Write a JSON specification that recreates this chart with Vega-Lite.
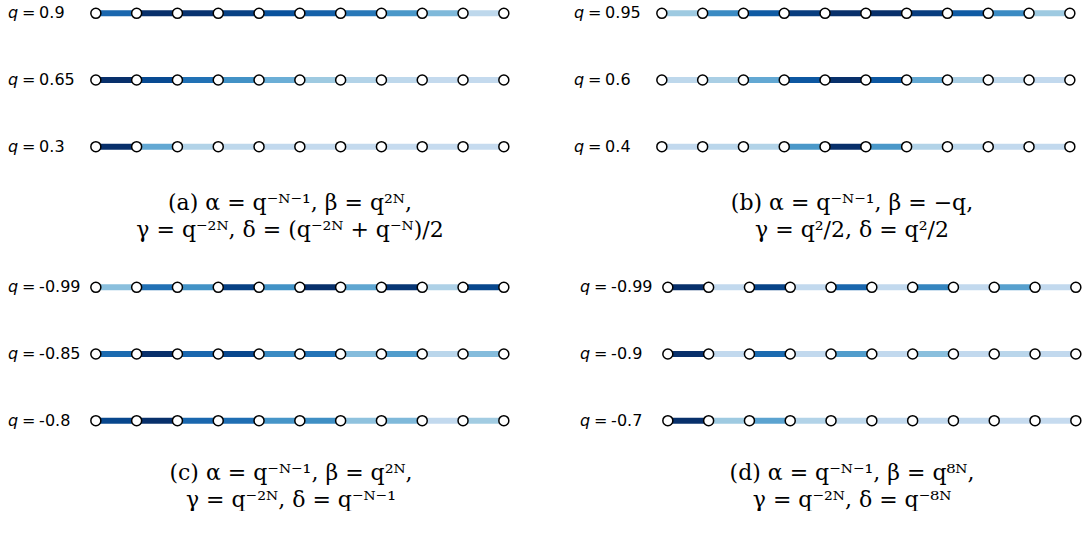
{
"$schema": "https://vega.github.io/schema/vega-lite/v6.json",
"autosize": {"type": "pad"},
"padding": {"left": 2, "top": 0, "right": 0, "bottom": 0},
"background": "white",
"config": {"view": {"stroke": null}, "title": {"font": "DejaVu Serif", "fontSize": 22, "fontWeight": "normal", "color": "black", "lineHeight": 27, "orient": "bottom", "anchor": "middle"}},
"datasets": {
"nodes": [
{"row":0,"i":0},{"row":0,"i":1},{"row":0,"i":2},{"row":0,"i":3},{"row":0,"i":4},{"row":0,"i":5},{"row":0,"i":6},{"row":0,"i":7},{"row":0,"i":8},{"row":0,"i":9},{"row":0,"i":10},
{"row":1,"i":0},{"row":1,"i":1},{"row":1,"i":2},{"row":1,"i":3},{"row":1,"i":4},{"row":1,"i":5},{"row":1,"i":6},{"row":1,"i":7},{"row":1,"i":8},{"row":1,"i":9},{"row":1,"i":10},
{"row":2,"i":0},{"row":2,"i":1},{"row":2,"i":2},{"row":2,"i":3},{"row":2,"i":4},{"row":2,"i":5},{"row":2,"i":6},{"row":2,"i":7},{"row":2,"i":8},{"row":2,"i":9},{"row":2,"i":10}
],
"ea": [
{"row":0,"from":0,"to":1,"v":4.3},{"row":0,"from":1,"to":2,"v":6},{"row":0,"from":2,"to":3,"v":5.9},{"row":0,"from":3,"to":4,"v":5.5},{"row":0,"from":4,"to":5,"v":5.0},{"row":0,"from":5,"to":6,"v":4.5},{"row":0,"from":6,"to":7,"v":3.8},{"row":0,"from":7,"to":8,"v":2.8},{"row":0,"from":8,"to":9,"v":1.6},{"row":0,"from":9,"to":10,"v":0.2},
{"row":1,"from":0,"to":1,"v":6},{"row":1,"from":1,"to":2,"v":5.2},{"row":1,"from":2,"to":3,"v":4.0},{"row":1,"from":3,"to":4,"v":3.0},{"row":1,"from":4,"to":5,"v":2.0},{"row":1,"from":5,"to":6,"v":1.0},{"row":1,"from":6,"to":7,"v":0.5},{"row":1,"from":7,"to":8,"v":0.2},{"row":1,"from":8,"to":9,"v":0.05},{"row":1,"from":9,"to":10,"v":0.05},
{"row":2,"from":0,"to":1,"v":6},{"row":2,"from":1,"to":2,"v":2.2},{"row":2,"from":2,"to":3,"v":0.5},{"row":2,"from":3,"to":4,"v":0.2},{"row":2,"from":4,"to":5,"v":0.1},{"row":2,"from":5,"to":6,"v":0.05},{"row":2,"from":6,"to":7,"v":0.05},{"row":2,"from":7,"to":8,"v":0},{"row":2,"from":8,"to":9,"v":0},{"row":2,"from":9,"to":10,"v":0}
],
"eb": [
{"row":0,"from":0,"to":1,"v":1.0},{"row":0,"from":1,"to":2,"v":3.2},{"row":0,"from":2,"to":3,"v":4.7},{"row":0,"from":3,"to":4,"v":5.6},{"row":0,"from":4,"to":5,"v":6},{"row":0,"from":5,"to":6,"v":6},{"row":0,"from":6,"to":7,"v":5.6},{"row":0,"from":7,"to":8,"v":4.7},{"row":0,"from":8,"to":9,"v":3.2},{"row":0,"from":9,"to":10,"v":1.0},
{"row":1,"from":0,"to":1,"v":0.2},{"row":1,"from":1,"to":2,"v":0.7},{"row":1,"from":2,"to":3,"v":2.2},{"row":1,"from":3,"to":4,"v":4.8},{"row":1,"from":4,"to":5,"v":6},{"row":1,"from":5,"to":6,"v":4.8},{"row":1,"from":6,"to":7,"v":2.2},{"row":1,"from":7,"to":8,"v":0.7},{"row":1,"from":8,"to":9,"v":0.2},{"row":1,"from":9,"to":10,"v":0.1},
{"row":2,"from":0,"to":1,"v":0.1},{"row":2,"from":1,"to":2,"v":0.3},{"row":2,"from":2,"to":3,"v":0.5},{"row":2,"from":3,"to":4,"v":2.8},{"row":2,"from":4,"to":5,"v":6},{"row":2,"from":5,"to":6,"v":2.8},{"row":2,"from":6,"to":7,"v":0.5},{"row":2,"from":7,"to":8,"v":0.3},{"row":2,"from":8,"to":9,"v":0.1},{"row":2,"from":9,"to":10,"v":0.1}
],
"ec": [
{"row":0,"from":0,"to":1,"v":1.4},{"row":0,"from":1,"to":2,"v":4.0},{"row":0,"from":2,"to":3,"v":3.0},{"row":0,"from":3,"to":4,"v":5.5},{"row":0,"from":4,"to":5,"v":3.0},{"row":0,"from":5,"to":6,"v":6},{"row":0,"from":6,"to":7,"v":2.3},{"row":0,"from":7,"to":8,"v":5.8},{"row":0,"from":8,"to":9,"v":0.6},{"row":0,"from":9,"to":10,"v":5.3},
{"row":1,"from":0,"to":1,"v":4.2},{"row":1,"from":1,"to":2,"v":6},{"row":1,"from":2,"to":3,"v":4.3},{"row":1,"from":3,"to":4,"v":5.3},{"row":1,"from":4,"to":5,"v":3.2},{"row":1,"from":5,"to":6,"v":3.9},{"row":1,"from":6,"to":7,"v":1.5},{"row":1,"from":7,"to":8,"v":2.6},{"row":1,"from":8,"to":9,"v":0.3},{"row":1,"from":9,"to":10,"v":1.5},
{"row":2,"from":0,"to":1,"v":5.3},{"row":2,"from":1,"to":2,"v":6},{"row":2,"from":2,"to":3,"v":4.3},{"row":2,"from":3,"to":4,"v":4.1},{"row":2,"from":4,"to":5,"v":2.9},{"row":2,"from":5,"to":6,"v":3.1},{"row":2,"from":6,"to":7,"v":1.3},{"row":2,"from":7,"to":8,"v":1.6},{"row":2,"from":8,"to":9,"v":0.1},{"row":2,"from":9,"to":10,"v":0.9}
],
"ed": [
{"row":0,"from":0,"to":1,"v":6},{"row":0,"from":1,"to":2,"v":0.1},{"row":0,"from":2,"to":3,"v":5.4},{"row":0,"from":3,"to":4,"v":0.1},{"row":0,"from":4,"to":5,"v":4.3},{"row":0,"from":5,"to":6,"v":0.1},{"row":0,"from":6,"to":7,"v":3.4},{"row":0,"from":7,"to":8,"v":0.1},{"row":0,"from":8,"to":9,"v":2.5},{"row":0,"from":9,"to":10,"v":0.1},
{"row":1,"from":0,"to":1,"v":6},{"row":1,"from":1,"to":2,"v":0.1},{"row":1,"from":2,"to":3,"v":4.2},{"row":1,"from":3,"to":4,"v":0.1},{"row":1,"from":4,"to":5,"v":2.6},{"row":1,"from":5,"to":6,"v":0.1},{"row":1,"from":6,"to":7,"v":1.4},{"row":1,"from":7,"to":8,"v":0.1},{"row":1,"from":8,"to":9,"v":0.3},{"row":1,"from":9,"to":10,"v":0.1},
{"row":2,"from":0,"to":1,"v":6},{"row":2,"from":1,"to":2,"v":1.0},{"row":2,"from":2,"to":3,"v":2.4},{"row":2,"from":3,"to":4,"v":0.5},{"row":2,"from":4,"to":5,"v":0.2},{"row":2,"from":5,"to":6,"v":0.1},{"row":2,"from":6,"to":7,"v":0.1},{"row":2,"from":7,"to":8,"v":0.1},{"row":2,"from":8,"to":9,"v":0},{"row":2,"from":9,"to":10,"v":0}
],
"la": [{"row":0,"q":"0.9"},{"row":1,"q":"0.65"},{"row":2,"q":"0.3"}],
"lb": [{"row":0,"q":"0.95"},{"row":1,"q":"0.6"},{"row":2,"q":"0.4"}],
"lc": [{"row":0,"q":"-0.99"},{"row":1,"q":"-0.85"},{"row":2,"q":"-0.8"}],
"ld": [{"row":0,"q":"-0.99"},{"row":1,"q":"-0.9"},{"row":2,"q":"-0.7"}]
},
"bounds": "flush",
"columns": 2,
"spacing": {"row": 114, "column": 56},
"concat": [
{"width": 510, "height": 160,
 "title": {"text": ["(a) α = q⁻ᴺ⁻¹, β = q²ᴺ,", "γ = q⁻²ᴺ, δ = (q⁻²ᴺ + q⁻ᴺ)/2"], "offset": 33, "dx": 33},
 "layer": [
  {"data": {"name": "ea"}, "mark": {"type": "rule", "strokeWidth": 6, "strokeCap": "butt"},
   "encoding": {"x": {"field": "from", "type": "quantitative", "scale": {"domain": [-2.3, 10.2], "nice": false, "zero": false}, "axis": null}, "x2": {"field": "to"},
    "y": {"field": "row", "type": "quantitative", "scale": {"domain": [-0.2, 2.2], "reverse": true, "nice": false, "zero": false}, "axis": null},
    "color": {"field": "v", "type": "quantitative", "scale": {"domain": [0,1,2,3,4,5,6], "range": ["#c6dbef","#9ecae1","#6baed6","#4292c6","#2171b5","#08519c","#08306b"], "interpolate": "rgb"}, "legend": null}}},
  {"data": {"name": "nodes"}, "mark": {"type": "point", "shape": "circle", "filled": true, "fill": "white", "stroke": "black", "strokeWidth": 1.5, "size": 100, "opacity": 1},
   "encoding": {"x": {"field": "i", "type": "quantitative", "axis": null}, "y": {"field": "row", "type": "quantitative", "axis": null}}},
  {"data": {"name": "la"}, "mark": {"type": "text", "align": "left", "baseline": "middle", "font": "DejaVu Sans", "fontSize": 16, "fontStyle": "italic"},
   "encoding": {"x": {"datum": -2.15, "type": "quantitative", "axis": null}, "y": {"field": "row", "type": "quantitative", "axis": null}, "text": {"value": "q"}}},
  {"data": {"name": "la"}, "mark": {"type": "text", "align": "left", "baseline": "middle", "font": "DejaVu Sans", "fontSize": 16, "dx": 14},
   "encoding": {"x": {"datum": -2.15, "type": "quantitative", "axis": null}, "y": {"field": "row", "type": "quantitative", "axis": null}, "text": {"value": "="}}},
  {"data": {"name": "la"}, "mark": {"type": "text", "align": "left", "baseline": "middle", "font": "DejaVu Sans", "fontSize": 16, "dx": 31},
   "encoding": {"x": {"datum": -2.15, "type": "quantitative", "axis": null}, "y": {"field": "row", "type": "quantitative", "axis": null}, "text": {"field": "q", "type": "nominal"}}}
 ]},
{"width": 510, "height": 160,
 "title": {"text": ["(b) α = q⁻ᴺ⁻¹, β = −q,", "γ = q²/2, δ = q²/2"], "offset": 33, "dx": 29},
 "layer": [
  {"data": {"name": "eb"}, "mark": {"type": "rule", "strokeWidth": 6, "strokeCap": "butt"},
   "encoding": {"x": {"field": "from", "type": "quantitative", "scale": {"domain": [-2.3, 10.2], "nice": false, "zero": false}, "axis": null}, "x2": {"field": "to"},
    "y": {"field": "row", "type": "quantitative", "scale": {"domain": [-0.2, 2.2], "reverse": true, "nice": false, "zero": false}, "axis": null},
    "color": {"field": "v", "type": "quantitative", "scale": {"domain": [0,1,2,3,4,5,6], "range": ["#c6dbef","#9ecae1","#6baed6","#4292c6","#2171b5","#08519c","#08306b"], "interpolate": "rgb"}, "legend": null}}},
  {"data": {"name": "nodes"}, "mark": {"type": "point", "shape": "circle", "filled": true, "fill": "white", "stroke": "black", "strokeWidth": 1.5, "size": 100, "opacity": 1},
   "encoding": {"x": {"field": "i", "type": "quantitative", "axis": null}, "y": {"field": "row", "type": "quantitative", "axis": null}}},
  {"data": {"name": "lb"}, "mark": {"type": "text", "align": "left", "baseline": "middle", "font": "DejaVu Sans", "fontSize": 16, "fontStyle": "italic"},
   "encoding": {"x": {"datum": -2.15, "type": "quantitative", "axis": null}, "y": {"field": "row", "type": "quantitative", "axis": null}, "text": {"value": "q"}}},
  {"data": {"name": "lb"}, "mark": {"type": "text", "align": "left", "baseline": "middle", "font": "DejaVu Sans", "fontSize": 16, "dx": 14},
   "encoding": {"x": {"datum": -2.15, "type": "quantitative", "axis": null}, "y": {"field": "row", "type": "quantitative", "axis": null}, "text": {"value": "="}}},
  {"data": {"name": "lb"}, "mark": {"type": "text", "align": "left", "baseline": "middle", "font": "DejaVu Sans", "fontSize": 16, "dx": 31},
   "encoding": {"x": {"datum": -2.15, "type": "quantitative", "axis": null}, "y": {"field": "row", "type": "quantitative", "axis": null}, "text": {"field": "q", "type": "nominal"}}}
 ]},
{"width": 510, "height": 160,
 "title": {"text": ["(c) α = q⁻ᴺ⁻¹, β = q²ᴺ,", "γ = q⁻²ᴺ, δ = q⁻ᴺ⁻¹"], "offset": 29, "dx": 34},
 "layer": [
  {"data": {"name": "ec"}, "mark": {"type": "rule", "strokeWidth": 6, "strokeCap": "butt"},
   "encoding": {"x": {"field": "from", "type": "quantitative", "scale": {"domain": [-2.3, 10.2], "nice": false, "zero": false}, "axis": null}, "x2": {"field": "to"},
    "y": {"field": "row", "type": "quantitative", "scale": {"domain": [-0.2, 2.2], "reverse": true, "nice": false, "zero": false}, "axis": null},
    "color": {"field": "v", "type": "quantitative", "scale": {"domain": [0,1,2,3,4,5,6], "range": ["#c6dbef","#9ecae1","#6baed6","#4292c6","#2171b5","#08519c","#08306b"], "interpolate": "rgb"}, "legend": null}}},
  {"data": {"name": "nodes"}, "mark": {"type": "point", "shape": "circle", "filled": true, "fill": "white", "stroke": "black", "strokeWidth": 1.5, "size": 100, "opacity": 1},
   "encoding": {"x": {"field": "i", "type": "quantitative", "axis": null}, "y": {"field": "row", "type": "quantitative", "axis": null}}},
  {"data": {"name": "lc"}, "mark": {"type": "text", "align": "left", "baseline": "middle", "font": "DejaVu Sans", "fontSize": 16, "fontStyle": "italic"},
   "encoding": {"x": {"datum": -2.15, "type": "quantitative", "axis": null}, "y": {"field": "row", "type": "quantitative", "axis": null}, "text": {"value": "q"}}},
  {"data": {"name": "lc"}, "mark": {"type": "text", "align": "left", "baseline": "middle", "font": "DejaVu Sans", "fontSize": 16, "dx": 14},
   "encoding": {"x": {"datum": -2.15, "type": "quantitative", "axis": null}, "y": {"field": "row", "type": "quantitative", "axis": null}, "text": {"value": "="}}},
  {"data": {"name": "lc"}, "mark": {"type": "text", "align": "left", "baseline": "middle", "font": "DejaVu Sans", "fontSize": 16, "dx": 31},
   "encoding": {"x": {"datum": -2.15, "type": "quantitative", "axis": null}, "y": {"field": "row", "type": "quantitative", "axis": null}, "text": {"field": "q", "type": "nominal"}}}
 ]},
{"width": 510, "height": 160,
 "title": {"text": ["(d) α = q⁻ᴺ⁻¹, β = q⁸ᴺ,", "γ = q⁻²ᴺ, δ = q⁻⁸ᴺ"], "offset": 29, "dx": 29},
 "layer": [
  {"data": {"name": "ed"}, "mark": {"type": "rule", "strokeWidth": 6, "strokeCap": "butt"},
   "encoding": {"x": {"field": "from", "type": "quantitative", "scale": {"domain": [-2.447, 10.053], "nice": false, "zero": false}, "axis": null}, "x2": {"field": "to"},
    "y": {"field": "row", "type": "quantitative", "scale": {"domain": [-0.2, 2.2], "reverse": true, "nice": false, "zero": false}, "axis": null},
    "color": {"field": "v", "type": "quantitative", "scale": {"domain": [0,1,2,3,4,5,6], "range": ["#c6dbef","#9ecae1","#6baed6","#4292c6","#2171b5","#08519c","#08306b"], "interpolate": "rgb"}, "legend": null}}},
  {"data": {"name": "nodes"}, "mark": {"type": "point", "shape": "circle", "filled": true, "fill": "white", "stroke": "black", "strokeWidth": 1.5, "size": 100, "opacity": 1},
   "encoding": {"x": {"field": "i", "type": "quantitative", "axis": null}, "y": {"field": "row", "type": "quantitative", "axis": null}}},
  {"data": {"name": "ld"}, "mark": {"type": "text", "align": "left", "baseline": "middle", "font": "DejaVu Sans", "fontSize": 16, "fontStyle": "italic"},
   "encoding": {"x": {"datum": -2.15, "type": "quantitative", "axis": null}, "y": {"field": "row", "type": "quantitative", "axis": null}, "text": {"value": "q"}}},
  {"data": {"name": "ld"}, "mark": {"type": "text", "align": "left", "baseline": "middle", "font": "DejaVu Sans", "fontSize": 16, "dx": 14},
   "encoding": {"x": {"datum": -2.15, "type": "quantitative", "axis": null}, "y": {"field": "row", "type": "quantitative", "axis": null}, "text": {"value": "="}}},
  {"data": {"name": "ld"}, "mark": {"type": "text", "align": "left", "baseline": "middle", "font": "DejaVu Sans", "fontSize": 16, "dx": 31},
   "encoding": {"x": {"datum": -2.15, "type": "quantitative", "axis": null}, "y": {"field": "row", "type": "quantitative", "axis": null}, "text": {"field": "q", "type": "nominal"}}}
 ]}
]
}
